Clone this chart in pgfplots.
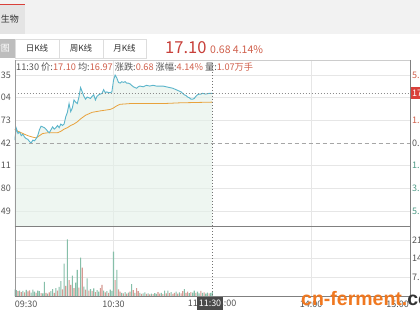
\documentclass[border=0pt]{standalone}
\usepackage{pgfplots}
\pgfplotsset{compat=1.18}
\usepackage{fontspec}
\setmainfont{Noto Sans CJK SC}
\newfontfamily\wmfont{Liberation Sans}
\definecolor{hdr}{HTML}{F2F2F2}
\definecolor{tabg}{HTML}{E4E4E4}
\definecolor{redc}{HTML}{D9403A}
\definecolor{tabsel}{HTML}{BDBDBD}
\definecolor{tabb}{HTML}{DDDDDD}
\definecolor{txtd}{HTML}{333333}
\definecolor{txt}{HTML}{555555}
\definecolor{redt}{HTML}{C8403A}
\definecolor{redl}{HTML}{D0604C}
\definecolor{greenl}{HTML}{4E9A86}
\definecolor{gridc}{HTML}{E6E6E6}
\definecolor{framec}{HTML}{808080}
\definecolor{pricec}{HTML}{5BB5CB}
\definecolor{avgc}{HTML}{E8A23C}
\definecolor{fillc}{HTML}{E3F0E9}
\definecolor{gbar}{HTML}{86BFA9}
\definecolor{rbar}{HTML}{D69A93}
\definecolor{darkbox}{HTML}{4A4A4A}
\definecolor{wmc}{HTML}{F07820}
\begin{document}
\begin{tikzpicture}[x=1pt,y=1pt,every node/.style={font=\fontsize{9}{11}\selectfont,inner sep=0pt}]
\useasboundingbox (0,0) rectangle (420,-315);
\clip (0,0) rectangle (420,-315);
\fill[white] (0,0) rectangle (420,-315);
% header
\fill[hdr] (0,0) rectangle (420,-34);
\fill[tabg] (0,-4) rectangle (25,-34);
\draw[redc,line width=1.5pt] (0,-4.5) -- (25,-4.5);
\node[anchor=east,text=txtd] at (19,-19) {生物};
% tab row
\fill[tabsel] (0,-39) rectangle (15,-58);
\node[anchor=east,text=white] at (10,-48.5) {分时图};
\draw[tabb] (15,-39) rectangle (59,-58);
\draw[tabb] (59,-39) rectangle (103,-58);
\draw[tabb] (103,-39) rectangle (146,-58);
\node[text=txtd,font=\fontsize{8.5}{10}\selectfont] at (37,-48.5) {日K线};
\node[text=txtd,font=\fontsize{8.5}{10}\selectfont] at (81,-48.5) {周K线};
\node[text=txtd,font=\fontsize{8.5}{10}\selectfont] at (124.5,-48.5) {月K线};
\node[anchor=base west,text=redt,font=\fontsize{16.5}{18}\selectfont] at (165,-54) {17.10};
\node[anchor=base west,text=redl,font=\fontsize{10.5}{12}\selectfont] at (210,-54) {0.68 4.14\%};
% grid
\foreach \yy in {75.1,97.7,120.4,165.6,188.3,210.9} {\draw[gridc,line width=0.5pt] (14.7,-\yy) -- (410,-\yy);}
\foreach \yy in {240,258.7,277.3} {\draw[gridc,line width=0.5pt] (14.7,-\yy) -- (410,-\yy);}
\foreach \xx in {113.5,311} {\draw[gridc,line width=0.5pt] (\xx,-60) -- (\xx,-296);}
% price axis
\begin{axis}[hide axis,at={(14.7pt,-226pt)},anchor=south west,scale only axis,
  width=395.3pt,height=166pt,xmin=0,xmax=240,ymin=15.283,ymax=17.557]
\addplot[fill=fillc,fill opacity=0.6,draw=none] coordinates {
(0,16.46) (1,16.62) (2,16.55) (3,16.57) (4,16.52) (5,16.54) (6,16.50) (7,16.48) (8,16.47) (9,16.44) (10,16.42) (11,16.46) (12,16.45) (13,16.48) (14,16.52) (15,16.60) (16,16.65) (17,16.64) (18,16.63) (19,16.61) (20,16.58) (21,16.56) (22,16.60) (23,16.64) (24,16.61) (25,16.63) (26,16.66) (27,16.63) (28,16.68) (29,16.66) (30,16.68) (31,16.78) (32,16.84) (33,16.96) (34,16.85) (35,16.90) (36,17.01) (37,16.98) (38,16.96) (39,17.05) (40,17.18) (41,17.12) (42,17.06) (43,17.02) (44,17.05) (45,17.04) (46,17.03) (47,17.06) (48,17.08) (49,17.01) (50,17.06) (51,17.08) (52,17.09) (53,17.10) (54,17.15) (55,17.11) (56,17.12) (57,17.11) (58,17.11) (59,17.12) (60,17.28) (61,17.35) (62,17.31) (63,17.25) (64,17.24) (65,17.26) (66,17.25) (67,17.26) (68,17.24) (69,17.24) (70,17.23) (71,17.21) (72,17.19) (73,17.18) (74,17.17) (75,17.19) (76,17.20) (78,17.19) (80,17.21) (82,17.20) (84,17.21) (86,17.20) (88,17.20) (90,17.20) (92,17.19) (94,17.18) (96,17.17) (98,17.15) (100,17.13) (101,17.12) (102,17.10) (103,17.08) (104,17.07) (105,17.05) (106,17.04) (107,17.02) (108,17.02) (109,17.03) (110,17.06) (111,17.08) (112,17.09) (113,17.09) (114,17.10) (116,17.09) (118,17.10) (120,17.10)
} \closedcycle;
\addplot[avgc,line width=0.8pt] coordinates {
(0,16.61) (2,16.58) (5,16.55) (8,16.52) (11,16.50) (13,16.49) (15,16.52) (17,16.55) (20,16.56) (26,16.56) (28,16.58) (30,16.61) (32,16.63) (34,16.66) (36,16.68) (38,16.71) (40,16.75) (43,16.80) (47,16.84) (52,16.86) (58,16.88) (60,16.90) (62,16.93) (64,16.95) (70,16.96) (90,16.96) (100,16.97) (120,16.98)
};
\addplot[pricec,line width=0.9pt] coordinates {
(0,16.46) (1,16.62) (2,16.55) (3,16.57) (4,16.52) (5,16.54) (6,16.50) (7,16.48) (8,16.47) (9,16.44) (10,16.42) (11,16.46) (12,16.45) (13,16.48) (14,16.52) (15,16.60) (16,16.65) (17,16.64) (18,16.63) (19,16.61) (20,16.58) (21,16.56) (22,16.60) (23,16.64) (24,16.61) (25,16.63) (26,16.66) (27,16.63) (28,16.68) (29,16.66) (30,16.68) (31,16.78) (32,16.84) (33,16.96) (34,16.85) (35,16.90) (36,17.01) (37,16.98) (38,16.96) (39,17.05) (40,17.18) (41,17.12) (42,17.06) (43,17.02) (44,17.05) (45,17.04) (46,17.03) (47,17.06) (48,17.08) (49,17.01) (50,17.06) (51,17.08) (52,17.09) (53,17.10) (54,17.15) (55,17.11) (56,17.12) (57,17.11) (58,17.11) (59,17.12) (60,17.28) (61,17.35) (62,17.31) (63,17.25) (64,17.24) (65,17.26) (66,17.25) (67,17.26) (68,17.24) (69,17.24) (70,17.23) (71,17.21) (72,17.19) (73,17.18) (74,17.17) (75,17.19) (76,17.20) (78,17.19) (80,17.21) (82,17.20) (84,17.21) (86,17.20) (88,17.20) (90,17.20) (92,17.19) (94,17.18) (96,17.17) (98,17.15) (100,17.13) (101,17.12) (102,17.10) (103,17.08) (104,17.07) (105,17.05) (106,17.04) (107,17.02) (108,17.02) (109,17.03) (110,17.06) (111,17.08) (112,17.09) (113,17.09) (114,17.10) (116,17.09) (118,17.10) (120,17.10)
};
\end{axis}
% volume axis
\begin{axis}[hide axis,at={(14.7pt,-296pt)},anchor=south west,scale only axis,
  width=395.3pt,height=70pt,xmin=0,xmax=240,ymin=0,ymax=26.25]
\addplot[ybar,bar shift=0pt,bar width=1.1pt,fill=gbar,draw=none] coordinates {
(0,2.5)(1,2.2)(3,2.0)(5,1.9)(7,2.3)(10,1.3)(11,2.4)(12,1.6)(14,2.0)(15,1.8)(17,1.0)(18,5.3)(20,0.9)(22,1.8)(23,2.6)(25,3.0)(27,3.4)(28,5.6)(30,12.1)(32,21.2)(35,7.6)(37,5.0)(38,9.8)(40,14.4)(42,3.5)(44,6.6)(46,2.6)(48,2.9)(50,2.2)(51,1.6)(54,2.0)(56,1.8)(58,2.4)(59,1.9)(60,16.6)(62,9.8)(65,1.2)(67,1.5)(69,1.3)(71,4.5)(73,1.2)(76,1.2)(78,1.0)(79,1.4)(81,1.0)(83,0.9)(85,1.1)(86,0.8)(89,1.2)(91,2.0)(93,2.0)(95,1.5)(98,1.6)(100,1.4)(103,2.6)(106,1.1)(108,1.3)(109,2.0)(111,1.6)(112,1.0)(114,1.2)(116,0.9)(117,1.3)(119,1.2)(120,1.6)
};
\addplot[ybar,bar shift=0pt,bar width=1.1pt,fill=rbar,draw=none] coordinates {
(2,1.8)(4,1.5)(6,1.4)(8,1.7)(9,2.1)(13,1.2)(16,1.1)(19,1.2)(21,1.4)(24,1.2)(26,2.0)(29,2.5)(31,3.8)(33,6.0)(34,4.2)(36,3.0)(39,3.1)(41,10.6)(43,2.4)(45,2.0)(47,1.8)(49,1.5)(52,3.0)(53,4.2)(55,1.4)(57,1.2)(61,6.0)(63,2.5)(64,1.6)(66,1.0)(68,0.9)(70,1.6)(72,2.2)(74,3.0)(75,1.8)(77,0.8)(80,0.8)(82,0.6)(84,0.7)(87,1.5)(88,0.9)(90,0.7)(92,1.0)(94,1.1)(96,0.8)(97,1.2)(99,0.9)(101,1.0)(102,1.8)(104,1.2)(105,1.6)(107,1.5)(110,1.2)(113,1.9)(115,1.4)(118,1.0)
};
\end{axis}
% prev close & crosshair
\draw[black!35,dash pattern=on 4pt off 3pt] (14.7,-143) -- (410,-143);
\draw[black!45,dash pattern=on 1pt off 2pt] (14.7,-93.4) -- (410,-93.4);
\draw[black!55,dash pattern=on 1pt off 2pt] (212,-60) -- (212,-296);
% frames
\draw[black!20] (14.7,-60) -- (410,-60);
\draw[black!40] (14.7,-60) -- (14.7,-296);
\draw[framec] (410,-60) -- (410,-296);
\draw[framec] (14.7,-226) -- (410,-226);
\draw[framec] (14.7,-296) -- (410,-296);
% info line
\node[anchor=west,text=txt,font=\fontsize{9.2}{11}\selectfont] at (16,-67) {11:30 价:\textcolor{redl}{17.10} 均:\textcolor{redl}{16.97} 涨跌:\textcolor{redl}{0.68} 涨幅:\textcolor{redl}{4.14\%} 量:\textcolor{redl}{1.07万手}};
% left price labels
\node[anchor=east,text=txt] at (11,-75.1) {17.35};
\node[anchor=east,text=txt] at (11,-97.7) {17.04};
\node[anchor=east,text=txt] at (11,-120.4) {16.73};
\node[anchor=east,text=txt] at (11,-143) {16.42};
\node[anchor=east,text=txt] at (11,-165.6) {16.11};
\node[anchor=east,text=txt] at (11,-188.3) {15.80};
\node[anchor=east,text=txt] at (11,-210.9) {15.49};
% right labels
\node[anchor=west,text=redl] at (412,-75.1) {5.66\%};
\node[anchor=west,text=redl] at (412,-120.4) {1.89\%};
\node[anchor=west,text=txt] at (412,-143) {0.00\%};
\node[anchor=west,text=greenl] at (412,-165.6) {1.89\%};
\node[anchor=west,text=greenl] at (412,-188.3) {3.78\%};
\node[anchor=west,text=greenl] at (412,-210.9) {5.66\%};
\fill[redc] (410.5,-87) rectangle (420,-99.5);
\node[anchor=west,text=white] at (412,-93.4) {17.10};
\node[anchor=west,text=txt] at (412,-240) {21.3};
\node[anchor=west,text=txt] at (412,-258.7) {14.2};
\node[anchor=west,text=txt] at (412,-277.3) {7.11};
% time labels
\node[anchor=west,text=txt] at (14.7,-304) {09:30};
\node[text=txt] at (113.5,-304) {10:30};
\node[text=txt] at (212,-304) {11:30/13:00};
\node[text=txt] at (311,-304) {14:00};
\node[anchor=east,text=txt] at (409,-304) {15:00};
\fill[darkbox] (197,-296.5) rectangle (223,-310);
\node[text=white] at (210,-303.3) {11:30};
% watermark
\node[anchor=base west,font=\wmfont\bfseries\fontsize{19.5}{21}\selectfont] at (301,-305.5) {\textcolor{wmc}{cn-ferment.}\textcolor{txtd}{com}};
\end{tikzpicture}
\end{document}
